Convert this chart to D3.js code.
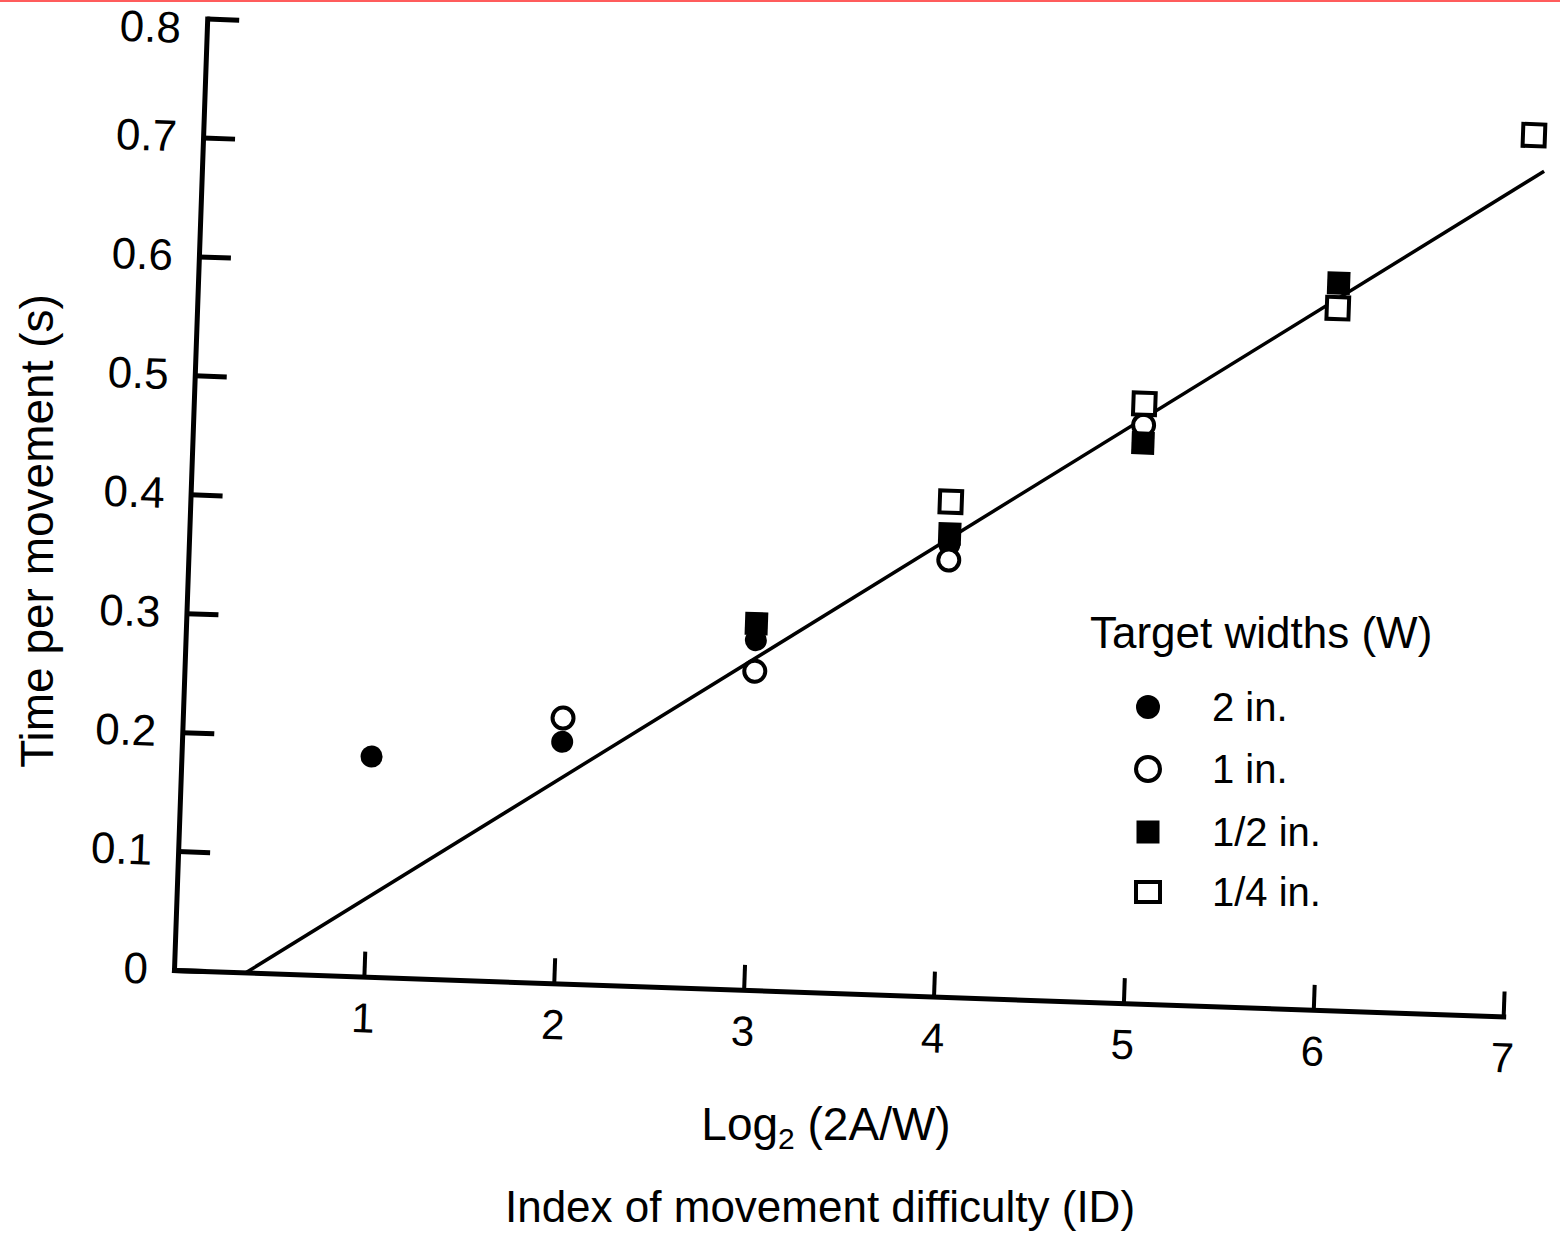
<!DOCTYPE html>
<html>
<head>
<meta charset="utf-8">
<script src="https://cdn.jsdelivr.net/npm/d3@7"></script>
<style>
  html, body { margin: 0; padding: 0; background: #fff; }
  svg { display: block; font-family: "Liberation Sans", Arial, sans-serif; }
</style>
</head>
<body>
<svg id="chart" width="1560" height="1234"></svg>
<script>
// ========= data =========
const xTicks = [1, 2, 3, 4, 5, 6, 7];
const yTicks = [0, 0.1, 0.2, 0.3, 0.4, 0.5, 0.6, 0.7, 0.8];

const widthLabels = ["2 in.", "1 in.", "1/2 in.", "1/4 in."];

// index of difficulty / time per movement (s) for each target width
const idW2 = [1, 2, 3, 4];
const mtW2 = [0.185, 0.203, 0.294, 0.380];

const idW1 = [2, 3, 4, 5];
const mtW1 = [0.223, 0.268, 0.367, 0.486];

const idWHalf = [3, 4, 5, 6];
const mtWHalf = [0.308, 0.389, 0.471, 0.611];

const idWQuarter = [4, 5, 6, 7];
const mtWQuarter = [0.416, 0.504, 0.590, 0.741];

// fitted line, two end points
const fitX = [0.38, 7.06];
const fitY = [0, 0.711];

// ========= svg =========
const svg = d3.select("#chart");

// red edge strip of the scan
svg.append("rect")
    .attr("x", 0).attr("y", 0)
    .attr("width", 1560).attr("height", 2)
    .attr("fill", "#ff5c5c");

// the scan is tilted a little, so the plot frame is rotated round its origin
const origin = { x: 174, y: 970 };
const tilt = 2;

const x = d3.scaleLinear().domain([0, 7]).range([0, 1330]);
const y = d3.scaleLinear().domain([0, 0.8]).range([0, -952]);

const g = svg.append("g")
    .attr("transform", `translate(${origin.x},${origin.y}) rotate(${tilt})`);

// ========= axes =========
const yAxis = g.append("g")
    .call(d3.axisLeft(y)
        .tickValues(yTicks)
        .tickSizeInner(-32)
        .tickSizeOuter(0)
        .tickPadding(26)
        .tickFormat(d => d === 0 ? "0" : d3.format(".1f")(d)));

const xAxis = g.append("g")
    .call(d3.axisBottom(x)
        .tickValues(xTicks)
        .tickSizeInner(-25)
        .tickSizeOuter(0)
        .tickPadding(26)
        .tickFormat(d3.format("d")));

[yAxis, xAxis].forEach(a => {
    a.attr("font-family", null).attr("font-size", null);
    a.select(".domain").attr("stroke", "#000").attr("stroke-width", 5).attr("stroke-linecap", "square");
    a.selectAll("text").attr("fill", "#000").style("font-size", "44px");
});
yAxis.selectAll(".tick line").attr("stroke", "#000").attr("stroke-width", 5);
// top label sits a bit lower than its tick in the scan
yAxis.selectAll(".tick text").filter(d => d === 0.8).attr("dy", "0.56em");
xAxis.selectAll(".tick line").attr("stroke", "#000").attr("stroke-width", 4);
xAxis.selectAll("text").style("font-size", "42px");

// ========= fitted line =========
g.append("line")
    .attr("x1", x(fitX[0])).attr("y1", y(fitY[0]))
    .attr("x2", x(fitX[1])).attr("y2", y(fitY[1]))
    .attr("stroke", "#000")
    .attr("stroke-width", 3.5);

// ========= markers =========
const series = [
    { ids: idW2, mts: mtW2, shape: "circle", filled: true },
    { ids: idW1, mts: mtW1, shape: "circle", filled: false },
    { ids: idWHalf, mts: mtWHalf, shape: "square", filled: true },
    { ids: idWQuarter, mts: mtWQuarter, shape: "square", filled: false }
];

function drawMarker(sel, shape, filled, cx, cy, big) {
    if (shape === "circle") {
        sel.append("circle")
            .attr("cx", cx).attr("cy", cy)
            .attr("r", filled ? (big ? 12 : 11) : (big ? 12 : 10.5))
            .attr("fill", filled ? "#000" : "#fff")
            .attr("stroke", "#000")
            .attr("stroke-width", filled ? 0 : 4);
    } else {
        const w = filled ? 23 : (big ? 24 : 22);
        const h = filled ? 23 : (big ? 20 : 22);
        sel.append("rect")
            .attr("x", cx - w / 2).attr("y", cy - h / 2)
            .attr("width", w).attr("height", h)
            .attr("fill", filled ? "#000" : "#fff")
            .attr("stroke", "#000")
            .attr("stroke-width", filled ? 0 : 4);
    }
}

const marks = g.append("g");
series.forEach(s => {
    s.ids.forEach((id, i) => {
        drawMarker(marks, s.shape, s.filled, x(id), y(s.mts[i]), false);
    });
});

// ========= axis titles =========
svg.append("text")
    .attr("transform", "translate(53,531) rotate(-90)")
    .attr("text-anchor", "middle")
    .style("font-size", "46px")
    .text("Time per movement (s)");

const logTitle = svg.append("text")
    .attr("x", 826)
    .attr("y", 1140)
    .attr("text-anchor", "middle")
    .style("font-size", "46px");
logTitle.append("tspan").text("Log");
logTitle.append("tspan").attr("dy", 9).style("font-size", "30px").text("2");
logTitle.append("tspan").attr("dy", -9).text(" (2A/W)");

svg.append("text")
    .attr("x", 820)
    .attr("y", 1222)
    .attr("text-anchor", "middle")
    .style("font-size", "44px")
    .text("Index of movement difficulty (ID)");

// ========= legend =========
const legend = svg.append("g");

legend.append("text")
    .attr("x", 1090)
    .attr("y", 648)
    .style("font-size", "44px")
    .text("Target widths (W)");

const legendRows = [707, 769, 832, 892];
series.forEach((s, i) => {
    drawMarker(legend, s.shape, s.filled, 1148, legendRows[i], true);
    legend.append("text")
        .attr("x", 1212)
        .attr("y", legendRows[i] + 14)
        .style("font-size", "40px")
        .text(widthLabels[i]);
});
</script>
</body>
</html>
